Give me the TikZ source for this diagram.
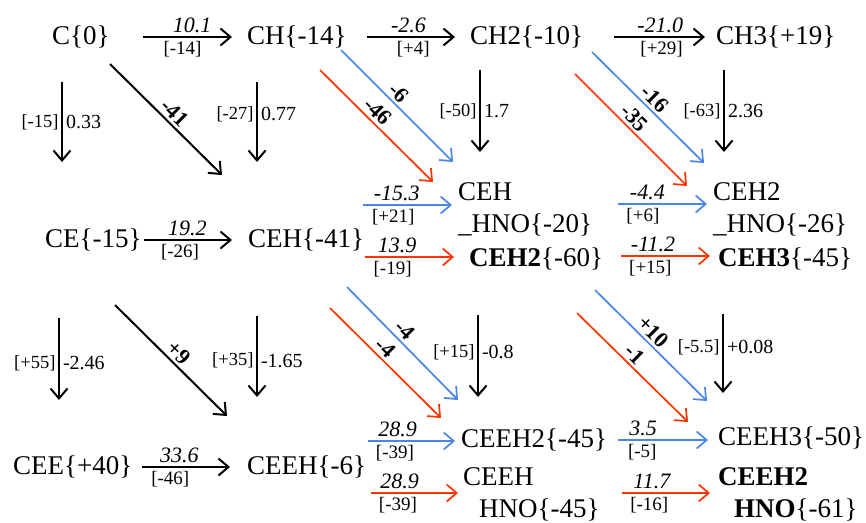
\documentclass[tikz,border=0pt]{standalone}
\usepackage{fontspec}
\setmainfont{Liberation Serif}
\usetikzlibrary{arrows.meta}
\definecolor{routeBlue}{HTML}{4A86E8}
\definecolor{routeRed}{HTML}{FF3300}
\tikzset{
  species/.style={font=\fontsize{27}{32}\selectfont, inner sep=0pt, anchor=west},
  twoline/.style={species, align=left},
  rxn/.style={-{Straight Barb[length=10pt,width=17pt]}, line width=2pt},
  rxnblue/.style={rxn, draw=routeBlue, line width=1.7pt},
  rxnred/.style={rxn, draw=routeRed, line width=1.7pt},
  barrier/.style={font=\fontsize{22}{24}\selectfont\itshape, above, inner sep=3pt},
  enth/.style={font=\fontsize{19}{21}\selectfont, below, inner sep=3.5pt},
  sideenth/.style={font=\fontsize{18.5}{20}\selectfont, left, inner sep=2.5pt},
  sideval/.style={font=\fontsize{20}{22}\selectfont, right, inner sep=3pt},
  slopeval/.style={font=\fontsize{22}{24}\selectfont\bfseries, sloped, above, inner sep=3pt}
}
\begin{document}
\begin{tikzpicture}[x=1pt, y=-1pt]
    \useasboundingbox (0,0) rectangle (866,522);

    \node[species] (c)    at (52,37)  {C\{0\}};
    \node[species] (ch)   at (247,37) {CH\{-14\}};
    \node[species] (ch2)  at (470,37) {CH2\{-10\}};
    \node[species] (ch3)  at (716,37) {CH3\{+19\}};
    \node[species] (ce)   at (45,240)  {CE\{-15\}};
    \node[species] (ceh)  at (248,240) {CEH\{-41\}};
    \node[twoline] (cehhno)  at (458,209) {CEH\\\_HNO\{-20\}};
    \node[species] (ceh2)    at (469,259) {\textbf{CEH2}\{-60\}};
    \node[twoline] (ceh2hno) at (713,209) {CEH2\\\_HNO\{-26\}};
    \node[species] (ceh3)    at (718,259) {\textbf{CEH3}\{-45\}};
    \node[species] (cee)   at (13,467)  {CEE\{+40\}};
    \node[species] (ceeh)  at (247,467) {CEEH\{-6\}};
    \node[species] (ceeh2)    at (461,440) {CEEH2\{-45\}};
    \node[twoline] (ceehhno)  at (463,494) {CEEH\\\hspace*{16pt}HNO\{-45\}};
    \node[species] (ceeh3)    at (718,438) {CEEH3\{-50\}};
    \node[twoline] (ceeh2hno) at (718,494) {\textbf{CEEH2}\\\hspace*{16pt}\textbf{HNO}\{-61\}};

    \draw[rxn, shorten <=33pt, shorten >=15pt] (c) -- node[barrier, pos=.6]{10.1} node[enth, pos=.53]{[-14]} (ch);
    \draw[rxn, shorten <=20pt, shorten >=15pt] (ch) -- node[barrier, pos=.5]{-2.6} node[enth, pos=.54]{[+4]} (ch2);
    \draw[rxn, shorten <=31pt, shorten >=11pt] (ch2) -- node[barrier, pos=.58]{-21.0} node[enth, pos=.59]{[+29]} (ch3);
    \draw[rxn, shorten <=2pt, shorten >=16pt] (ce) -- node[barrier, pos=.43]{19.2} node[enth, pos=.36]{[-26]} (ceh);
    \draw[rxn, shorten <=9pt, shorten >=17pt] (cee) -- node[barrier, pos=.41]{33.6} node[enth, pos=.33]{[-46]} (ceeh);

    % loose ends
    \coordinate (v1s) at (62,82);   \coordinate (v1e) at (62,162);
    \coordinate (v2s) at (257,82);  \coordinate (v2e) at (257,162);
    \coordinate (v3s) at (480,70);  \coordinate (v3e) at (480,152);
    \coordinate (v4s) at (724,70);  \coordinate (v4e) at (724,152);
    \coordinate (v5s) at (59,318);  \coordinate (v5e) at (59,400);
    \coordinate (v6s) at (257,316); \coordinate (v6e) at (257,397);
    \coordinate (v7s) at (478,315); \coordinate (v7e) at (478,397);
    \coordinate (v8s) at (723,314); \coordinate (v8e) at (723,393);
    \coordinate (d1s) at (110,64);  \coordinate (d1e) at (222,175);
    \coordinate (d2s) at (115,305); \coordinate (d2e) at (227,416);
    \coordinate (b1s) at (341,50);  \coordinate (b1e) at (453,162);
    \coordinate (r1s) at (320,70);  \coordinate (r1e) at (433,182);
    \coordinate (b2s) at (592,52);  \coordinate (b2e) at (704,163);
    \coordinate (r2s) at (575,74);  \coordinate (r2e) at (687,186);
    \coordinate (b3s) at (347,287); \coordinate (b3e) at (458,400);
    \coordinate (r3s) at (330,308); \coordinate (r3e) at (441,418);
    \coordinate (b4s) at (595,290); \coordinate (b4e) at (707,401);
    \coordinate (r4s) at (577,313); \coordinate (r4e) at (688,422);
    \coordinate (hb1s) at (363,205); \coordinate (hb1e) at (452,205);
    \coordinate (hr1s) at (365,257); \coordinate (hr1e) at (454,257);
    \coordinate (hb2s) at (618,204); \coordinate (hb2e) at (707,204);
    \coordinate (hr2s) at (621,256); \coordinate (hr2e) at (710,256);
    \coordinate (hb3s) at (368,441); \coordinate (hb3e) at (455,441);
    \coordinate (hr3s) at (371,493); \coordinate (hr3e) at (458,493);
    \coordinate (hb4s) at (618,440); \coordinate (hb4e) at (708,440);
    \coordinate (hr4s) at (622,493); \coordinate (hr4e) at (710,493);

    \draw[rxn] (v1s) -- node[sideenth]{[-15]} node[sideval]{0.33} (v1e);
    \draw[rxn] (v2s) -- node[sideenth, pos=.4]{[-27]} node[sideval, pos=.4]{0.77} (v2e);
    \draw[rxn] (v3s) -- node[sideenth]{[-50]} node[sideval]{1.7} (v3e);
    \draw[rxn] (v4s) -- node[sideenth]{[-63]} node[sideval]{2.36} (v4e);
    \draw[rxn] (v5s) -- node[sideenth, pos=.55]{[+55]} node[sideval, pos=.55]{-2.46} (v5e);
    \draw[rxn] (v6s) -- node[sideenth, pos=.55]{[+35]} node[sideval, pos=.55]{-1.65} (v6e);
    \draw[rxn] (v7s) -- node[sideenth, pos=.45]{[+15]} node[sideval, pos=.45]{-0.8} (v7e);
    \draw[rxn] (v8s) -- node[sideenth, pos=.42]{[-5.5]} node[sideval, pos=.42]{+0.08} (v8e);

    \draw[rxn] (d1s) -- node[slopeval, pos=.51]{-41} (d1e);
    \draw[rxn] (d2s) -- node[slopeval, pos=.5]{+9} (d2e);
    \draw[rxnblue] (b1s) -- node[slopeval, pos=.45]{-6} (b1e);
    \draw[rxnred] (r1s) -- node[slopeval, pos=.44]{-46} (r1e);
    \draw[rxnblue] (b2s) -- node[slopeval, pos=.49]{-16} (b2e);
    \draw[rxnred] (r2s) -- node[slopeval, pos=.46]{-35} (r2e);
    \draw[rxnblue] (b3s) -- node[slopeval, pos=.45]{-4} (b3e);
    \draw[rxnred] (r3s) -- node[slopeval, pos=.43]{-4} (r3e);
    \draw[rxnblue] (b4s) -- node[slopeval, pos=.45]{+10} (b4e);
    \draw[rxnred] (r4s) -- node[slopeval, pos=.45]{-1} (r4e);

    \draw[rxnblue] (hb1s) -- node[barrier, pos=.38]{-15.3} node[enth, pos=.34]{[+21]} (hb1e);
    \draw[rxnred] (hr1s) -- node[barrier, pos=.36]{13.9} node[enth, pos=.31]{[-19]} (hr1e);
    \draw[rxnblue] (hb2s) -- node[barrier, pos=.33]{-4.4} node[enth, pos=.28]{[+6]} (hb2e);
    \draw[rxnred] (hr2s) -- node[barrier, pos=.36]{-11.2} node[enth, pos=.33]{[+15]} (hr2e);
    \draw[rxnblue] (hb3s) -- node[barrier, pos=.34]{28.9} node[enth, pos=.31]{[-39]} (hb3e);
    \draw[rxnred] (hr3s) -- node[barrier, pos=.33]{28.9} node[enth, pos=.31]{[-39]} (hr3e);
    \draw[rxnblue] (hb4s) -- node[barrier, pos=.28]{3.5} node[enth, pos=.27]{[-5]} (hb4e);
    \draw[rxnred] (hr4s) -- node[barrier, pos=.34]{11.7} node[enth, pos=.31]{[-16]} (hr4e);
\end{tikzpicture}
\end{document}
